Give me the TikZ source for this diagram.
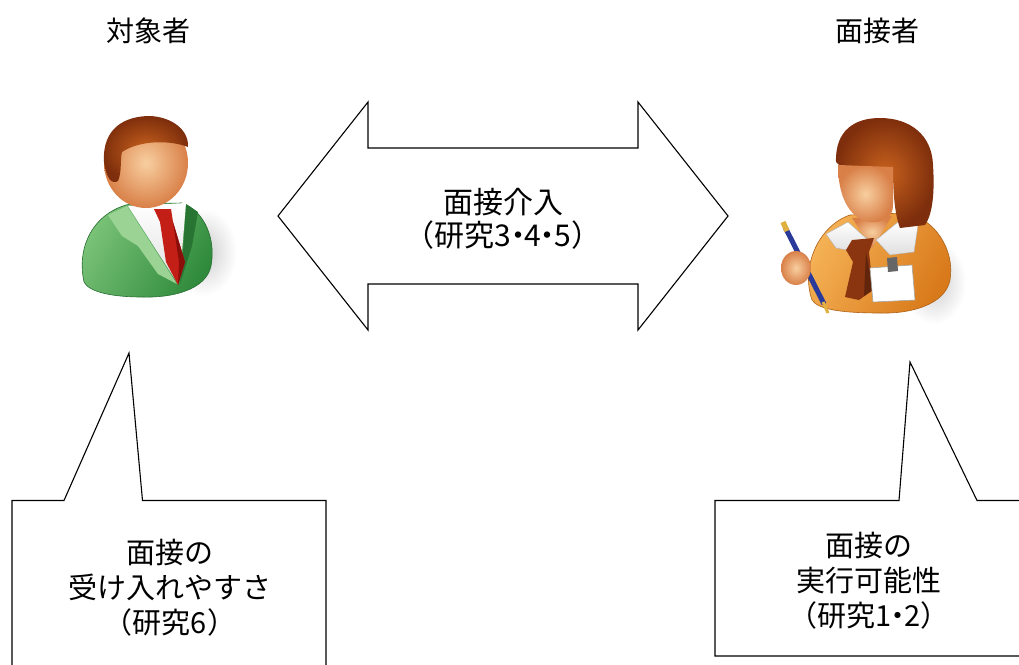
\documentclass[tikz,border=0pt]{standalone}
\usepackage{fontspec}
\setmainfont{Noto Sans CJK JP}
% tight middle dot between numbers
\newcommand\middot{\kern-.28em・\kern-.28em}
\definecolor{skinL}{HTML}{F8CFA0}
\definecolor{skinD}{HTML}{D98048}
\definecolor{hairL}{HTML}{C8621E}
\definecolor{hairD}{HTML}{7E2E0C}
\definecolor{jacketL}{HTML}{7CC47A}
\definecolor{jacketD}{HTML}{2F8A3C}
\definecolor{lapel}{HTML}{9AD394}
\definecolor{tieR}{HTML}{C41F16}
\definecolor{tieD}{HTML}{8A0F0A}
\definecolor{sweaterL}{HTML}{F6B458}
\definecolor{sweaterD}{HTML}{D8791A}
\definecolor{scarf}{HTML}{8B3510}
\definecolor{penB}{HTML}{2A3A9A}
\definecolor{penG}{HTML}{E0B040}
\begin{document}
\begin{tikzpicture}[x=1pt,y=-1pt,
  outline/.style={draw=black,line width=1.1pt,fill=white,line join=miter},
  label/.style={font=\fontsize{29}{35}\selectfont,align=center,inner sep=0pt},
  arrowlabel/.style={font=\fontsize{30}{33}\selectfont,align=center,inner sep=0pt},
  headtxt/.style={font=\fontsize{28}{34}\selectfont,inner sep=0pt}]
\useasboundingbox (0,0) rectangle (1019,664);
\fill[white] (0,0) rectangle (1019,664);

% ---------- column headings ----------
\node[headtxt] (hsubj) at (148.5,30.5) {対象者};
\node[headtxt] (hint)  at (877.5,30.5) {面接者};

% ---------- double-headed block arrow ----------
\draw[outline] (278,216) -- (368,102) -- (368,148) -- (638,148) -- (638,102)
  -- (728,216) -- (638,330) -- (638,284) -- (368,284) -- (368,330) -- cycle;
\node[arrowlabel] (arrowtxt) at (503,218.5) {面接介入\\（研究3\middot 4\middot 5）};

% ---------- speech callouts ----------
\begin{scope}
  \clip (0,0) rectangle (1019,664);
  \draw[outline] (12,500.5) -- (64,500.5) -- (129,353) -- (142.5,500.5)
    -- (326,500.5) -- (326,700) -- (12,700) -- cycle;
  \draw[outline] (715,500.5) -- (899,500.5) -- (910,362) -- (977,500.5)
    -- (1040,500.5) -- (1040,656) -- (715,656) -- cycle;
\end{scope}
\node[label] (leftnote) at (170,588) {面接の\\受け入れやすさ\\（研究6）};
\node[label] (rightnote) at (869,581) {面接の\\実行可能性\\（研究1\middot 2）};

% ---------- subject figure (man in green suit) ----------
\shade[inner color=gray!40,outer color=white] (203,252) ellipse [x radius=34pt,y radius=44pt];
\shade[left color=jacketL,right color=jacketD,shading angle=60,draw=jacketD!80!black,line width=0.6pt]
  (84,282) .. controls (76,245) and (95,212) .. (130,204) -- (182,203)
  .. controls (205,211) and (216,240) .. (211,266)
  .. controls (206,290) and (172,298) .. (142,297)
  .. controls (112,297) and (89,292) .. (84,282) -- cycle;
\fill[lapel] (108,215) -- (127,206) -- (177,284) -- (158,274) -- (138,246) -- (122,236) -- cycle;
\fill[jacketD!85!black] (186,204) -- (198,212) -- (192,246) -- (180,284) -- (183,252) -- cycle;
\shade[top color=white,bottom color=gray!25] (128,206) -- (186,203) -- (182,252) -- (178,284) -- cycle;
\fill[tieR] (154,209) -- (171,209) -- (173,222) -- (185,262) -- (178,285) -- (166,262) -- (160,222) -- cycle;
\fill[tieD] (173,222) -- (185,262) -- (178,285) -- (179,262) -- cycle;
\shade[inner color=skinL,outer color=skinD] (146,163) ellipse [x radius=42pt,y radius=45pt];
\shade[inner color=hairL,outer color=hairD]
  (104,162) .. controls (102,128) and (125,116) .. (150,116)
  .. controls (172,117) and (189,130) .. (188,147)
  .. controls (170,140) and (140,140) .. (122,152)
  .. controls (120,160) and (122,172) .. (118,181)
  .. controls (112,185) and (106,178) .. (104,162) -- cycle;

% ---------- interviewer figure (woman with pen) ----------
\shade[inner color=gray!40,outer color=white] (934,282) ellipse [x radius=32pt,y radius=42pt];
\shade[left color=sweaterL,right color=sweaterD,shading angle=60,draw=sweaterD!80!black,line width=0.6pt]
  (812,300) .. controls (800,265) and (820,225) .. (850,215) -- (905,213)
  .. controls (935,218) and (955,250) .. (950,280)
  .. controls (945,305) and (910,314) .. (880,313)
  .. controls (845,313) and (818,310) .. (812,300) -- cycle;
\shade[inner color=skinL,outer color=skinD] (852,218) -- (892,216) -- (872,248) -- cycle;
\shade[top color=white,bottom color=gray!25,draw=gray!60,line width=0.4pt]
  (826,234) -- (848,222) -- (868,240) -- (858,252) -- (836,248) -- cycle;
\shade[top color=white,bottom color=gray!25,draw=gray!60,line width=0.4pt]
  (876,240) -- (898,222) -- (918,225) -- (914,252) -- (890,255) -- cycle;
\fill[scarf] (852,240) -- (874,238) -- (869,252) -- (873,290) -- (859,300) -- (845,297)
  -- (853,262) -- (846,250) -- cycle;
\fill[scarf!70!black] (866,252) -- (873,290) -- (864,296) -- cycle;
\fill[white,draw=gray!70,line width=0.6pt] (870,268) -- (912,265) -- (915,300) -- (873,302) -- cycle;
\fill[gray!80!black] (887,258) -- (897,257) -- (898,271) -- (888,272) -- cycle;
% pen held in the left hand
\draw[penB,line width=5pt] (785,227) -- (824,304);
\draw[penG,line width=5.4pt] (783,222) -- (787,231);
\draw[penG,line width=3pt] (823,302) -- (828,313);
\shade[inner color=skinL,outer color=skinD] (796,268) ellipse [x radius=15pt,y radius=17pt];
% hair and face
\shade[inner color=hairL,outer color=hairD]
  (836,162) .. controls (835,130) and (855,118) .. (880,118)
  .. controls (910,118) and (932,135) .. (933,165)
  .. controls (935,195) and (932,215) .. (925,225) -- (900,228)
  .. controls (895,215) and (893,195) .. (893,168) -- (840,166) -- cycle;
\shade[inner color=skinL,outer color=skinD]
  (838,165) -- (893,167) -- (893,205) .. controls (893,220) and (880,223) .. (870,222)
  .. controls (852,220) and (838,200) .. (838,165) -- cycle;
\end{tikzpicture}
\end{document}
